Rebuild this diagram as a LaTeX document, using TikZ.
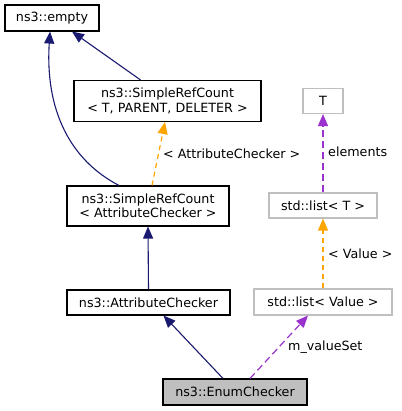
\documentclass[tikz,border=0pt]{standalone}
\usepackage{fontspec}
\setmainfont{DejaVu Sans}
\usetikzlibrary{arrows.meta}
\definecolor{edgeblue}{HTML}{191970}
\definecolor{edgeorange}{HTML}{FFA500}
\definecolor{edgeorchid}{HTML}{9A32CD}
\definecolor{boxgrey}{HTML}{BFBFBF}
\begin{document}
\begin{tikzpicture}[x=1pt, y=-1pt,
    >={Triangle[length=12pt, width=10pt]},
    every node/.style={font=\fontsize{12.7}{14.5}\selectfont, inner sep=0pt, align=center},
    classbox/.style={draw=black, line width=1.1pt, fill=white},
    stdbox/.style={draw=boxgrey, line width=1.1pt, fill=white},
    inherit/.style={->, draw=edgeblue, line width=1.1pt},
    templ/.style={->, draw=edgeorange, line width=1.2pt, dash pattern=on 5pt off 4pt},
    member/.style={->, draw=edgeorchid, line width=1.2pt, dash pattern=on 7pt off 4pt}]
    \useasboundingbox (0, 0) rectangle (401, 411);

    % Class boxes
    \node[classbox, minimum width=94pt, minimum height=26pt] (empty) at (52, 18) {ns3::empty};
    \node[classbox, minimum width=187pt, minimum height=41pt] (srct) at (167.5, 101) {ns3::SimpleRefCount\\< T, PARENT, DELETER >};
    \node[classbox, minimum width=162pt, minimum height=40pt] (srcac) at (148, 206) {ns3::SimpleRefCount\\< AttributeChecker >};
    \node[classbox, minimum width=163pt, minimum height=25pt] (checker) at (148.5, 302.5) {ns3::AttributeChecker};
    \node[classbox, fill=boxgrey, minimum width=144pt, minimum height=26pt] (enum) at (235, 392) {ns3::EnumChecker};

    % Std containers
    \node[stdbox, minimum width=40pt, minimum height=25pt] (t) at (323, 101) {T};
    \node[stdbox, minimum width=108pt, minimum height=25pt] (listt) at (323, 205.5) {std::list< T >};
    \node[stdbox, minimum width=138pt, minimum height=26pt] (listv) at (323, 302) {std::list< Value >};

    % Inheritance
    \draw[inherit] ([xshift=-29pt]srcac.north) .. controls (70, 160) and (45, 110) .. ([xshift=-2pt]empty.south);
    \draw[inherit] ([xshift=-27pt]srct.north) -- ([xshift=20pt]empty.south);
    \draw[inherit] (checker.north) -- (srcac.south);
    \draw[inherit] ([xshift=-12pt]enum.north) -- ([xshift=15pt]checker.south);

    % Template instances
    \draw[templ] ([xshift=4pt]srcac.north) -- ([xshift=-2.5pt]srct.south);
    \node[anchor=west] (lblac) at (163, 154) {< AttributeChecker >};
    \draw[templ] (listv.north) -- (listt.south);
    \node[anchor=west] (lblvalue) at (328, 254) {< Value >};

    % Members
    \draw[member] (listt.north) -- (t.south);
    \node[anchor=west] (lblelem) at (328, 152) {elements};
    \draw[member] ([xshift=15pt]enum.north) -- ([xshift=-15pt]listv.south);
    \node[anchor=west] (lblset) at (288, 347) {m\_valueSet};
\end{tikzpicture}
\end{document}
